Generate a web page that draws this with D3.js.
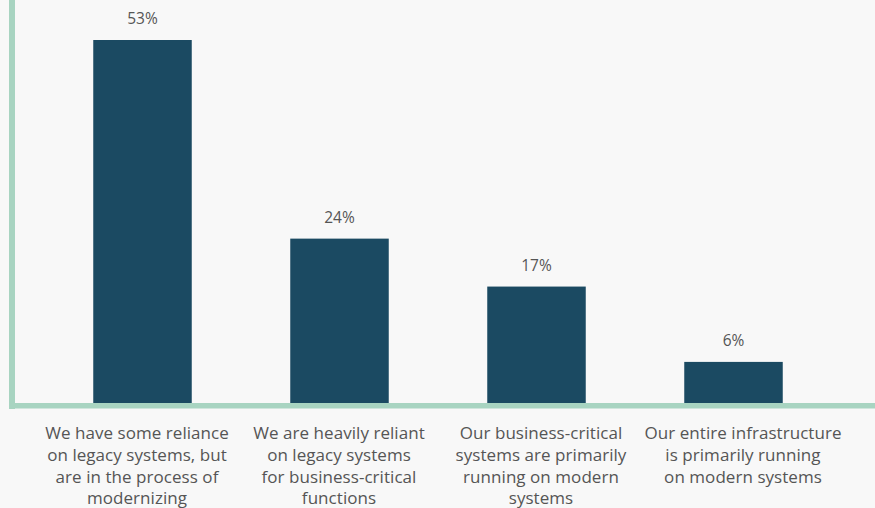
<!DOCTYPE html>
<html>
<head>
<meta charset="utf-8">
<script src="https://cdn.jsdelivr.net/npm/d3@7"></script>
<style>
  html, body { margin: 0; padding: 0; background: #f8f8f8; }
  svg { display: block; }
  text { font-family: "Open Sans", Lato, sans-serif; }
</style>
</head>
<body>
<svg id="chart" width="875" height="508"></svg>
<script>
// Survey responses: state of legacy systems
const categories = [
  "legacy-modernizing",
  "legacy-heavy",
  "critical-modern",
  "all-modern"
];
const categoryLines = [
  ["We have some reliance", "on legacy systems, but", "are in the process of", "modernizing"],
  ["We are heavily reliant", "on legacy systems", "for business-critical", "functions"],
  ["Our business-critical", "systems are primarily", "running on modern", "systems"],
  ["Our entire infrastructure", "is primarily running", "on modern systems"]
];
const values = [53, 24, 17, 6];
const valueLabels = ["53%", "24%", "17%", "6%"];

const width = 875, height = 508;
const baseline = 403;

const svg = d3.select("#chart");

svg.append("rect")
  .attr("width", width).attr("height", height)
  .attr("fill", "#f8f8f8");

// bar positions
const x = d3.scaleBand()
  .domain(categories)
  .range([44, 832])
  .paddingInner(0.5)
  .paddingOuter(0.25);

// category label text boxes sit on a slightly wider spread than the bars
const xLabel = d3.scalePoint()
  .domain(categories)
  .range([137, 743]);

const y = d3.scaleLinear()
  .domain([0, 53])
  .range([baseline, 40]);

// bars
svg.append("g")
  .selectAll("rect")
  .data(values)
  .join("rect")
  .attr("x", (d, i) => x(categories[i]))
  .attr("width", x.bandwidth())
  .attr("y", d => y(d))
  .attr("height", d => baseline - y(d))
  .attr("fill", "#1b4a62");

// value labels
svg.append("g")
  .selectAll("text")
  .data(values)
  .join("text")
  .attr("x", (d, i) => x(categories[i]) + x.bandwidth() / 2)
  .attr("y", d => y(d) - 16)
  .attr("text-anchor", "middle")
  .attr("font-size", 15.5)
  .attr("fill", "#555555")
  .text((d, i) => valueLabels[i]);

// axis lines
svg.append("rect")
  .attr("x", 9).attr("y", 0)
  .attr("width", 6).attr("height", 409)
  .attr("fill", "#a8d4c1");
svg.append("rect")
  .attr("x", 9).attr("y", 403)
  .attr("width", width - 9).attr("height", 5.5)
  .attr("fill", "#a8d4c1");

// category labels
const catG = svg.append("g")
  .selectAll("text")
  .data(categories)
  .join("text")
  .attr("text-anchor", "middle")
  .attr("font-size", 17)
  .attr("letter-spacing", 0.05)
  .attr("fill", "#555555")
  .attr("transform", d => `translate(${xLabel(d)},439)`);

catG.each(function(d, i) {
  d3.select(this).selectAll("tspan")
    .data(categoryLines[i])
    .join("tspan")
    .attr("x", 0)
    .attr("y", (l, j) => j * 21.8)
    .text(l => l);
});
</script>
</body>
</html>
